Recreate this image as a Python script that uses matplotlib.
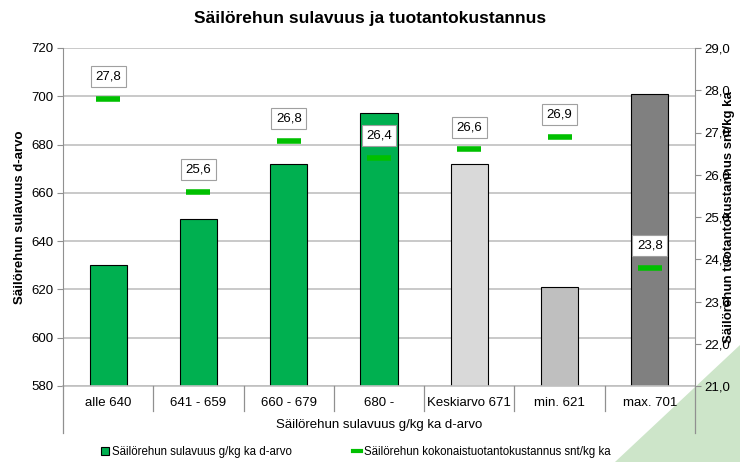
import matplotlib.pyplot as plt
import matplotlib.transforms as mtransforms
from matplotlib.patches import Patch, Polygon
from matplotlib.lines import Line2D
import numpy as np

plt.rcParams['font.family'] = ['Liberation Sans', 'DejaVu Sans']

# data
categories = ['alle 640', '641 - 659', '660 - 679', '680 -', 'Keskiarvo 671', 'min. 621', 'max. 701']
digestibility = [630, 649, 672, 693, 672, 621, 701]
cost = [27.8, 25.6, 26.8, 26.4, 26.6, 26.9, 23.8]
bar_colors = ['#00B050', '#00B050', '#00B050', '#00B050', '#D9D9D9', '#BFBFBF', '#808080']

title = 'Säilörehun sulavuus ja tuotantokustannus'
xlabel = 'Säilörehun sulavuus g/kg ka d-arvo'
ylabel_left = 'Säilörehun sulavuus d-arvo'
ylabel_right = 'Säilörehun tuotantokustannus snt/kg ka'
legend_bar = 'Säilörehun sulavuus g/kg ka d-arvo'
legend_line = 'Säilörehun kokonaistuotantokustannus snt/kg ka'

fig = plt.figure(figsize=(7.4, 4.62), dpi=100)
# light green corner decoration
fig.patches.append(Polygon([(1.0, 1 - 345 / 462), (1.0, 0.0), (615 / 740, 0.0)],
                           closed=True, transform=fig.transFigure,
                           facecolor='#cde5c9', edgecolor='none', zorder=-5))

ax = fig.add_axes([63 / 740, 1 - 386 / 462, (695 - 63) / 740, (386 - 48) / 462])
ax.patch.set_alpha(0)
x = np.arange(len(categories))

ax.set_ylim(580, 720)
ax.set_yticks(np.arange(580, 721, 20))
ax.set_xlim(-0.5, len(categories) - 0.5)
ax.yaxis.grid(True, color='#c0c0c0', lw=1.2)
ax.set_axisbelow(True)
ax.bar(x, digestibility, width=0.41, color=bar_colors, edgecolor='black', lw=0.8, zorder=2)

for s in ['top', 'right', 'bottom']:
    ax.spines[s].set_visible(False)
ax.spines['left'].set_color('#909090')
ax.set_xticks([])
ax.tick_params(axis='y', labelsize=9.5, length=4, color='#909090', pad=3)
ax.set_ylabel(ylabel_left, fontsize=9.5, fontweight='bold', labelpad=4)

ax2 = ax.twinx()
ax2.patch.set_alpha(0)
ax2.set_ylim(21, 29)
ax2.set_yticks(np.arange(21, 29.1, 1))
ax2.set_yticklabels([f'{v:.1f}'.replace('.', ',') for v in np.arange(21, 29.1, 1)])
for s in ['top', 'left', 'bottom']:
    ax2.spines[s].set_visible(False)
ax2.spines['right'].set_color('#909090')
ax2.tick_params(axis='y', labelsize=9.5, length=4, color='#909090', pad=3)
ax2.set_ylabel(ylabel_right, fontsize=9.5, fontweight='bold', rotation=90, va='center')
ax2.yaxis.set_label_coords(1.054, 0.5)

ax2.plot(x, cost, ls='none', marker='_', ms=17, mew=4, color='#00C000', zorder=3)
for xi, v in zip(x, cost):
    ax2.annotate(f'{v:.1f}'.replace('.', ','), (xi, v), xytext=(0, 16),
                 textcoords='offset points', ha='center', va='center', fontsize=9.5,
                 bbox=dict(boxstyle='square,pad=0.35', fc='white', ec='#a0a0a0', lw=0.8),
                 zorder=4)

# multi-level category axis
trans = mtransforms.blended_transform_factory(ax.transData, ax.transAxes)
ax.plot([-0.5, len(categories) - 0.5], [0, 0], color='#c0c0c0', lw=1.2,
        transform=trans, clip_on=False)
for b in np.arange(-0.5, len(categories), 1.0):
    bottom = -0.14 if b in (-0.5, len(categories) - 0.5) else -0.075
    ax.plot([b, b], [0, bottom], color='#909090', lw=0.9, transform=trans, clip_on=False)
for xi, c in zip(x, categories):
    ax.text(xi, -0.05, c, transform=trans, ha='center', va='center', fontsize=9.5)
ax.text(0.5, -0.115, xlabel, transform=ax.transAxes, ha='center', va='center', fontsize=9.5)

fig.text(0.5, 1 - 18 / 462, title, ha='center', va='center', fontsize=12.5, fontweight='bold')

handles = [Patch(facecolor='#00B050', edgecolor='black', lw=0.8),
           Line2D([], [], color='#00C000', lw=3)]
fig.legend(handles, [legend_bar, legend_line], loc='center', bbox_to_anchor=(0.481, 1 - 452 / 462),
           ncol=2, frameon=False, fontsize=8.3, handlelength=0.7, handleheight=0.7,
           handletextpad=0.25, columnspacing=5.3)

fig.savefig('out.png', dpi=100)
